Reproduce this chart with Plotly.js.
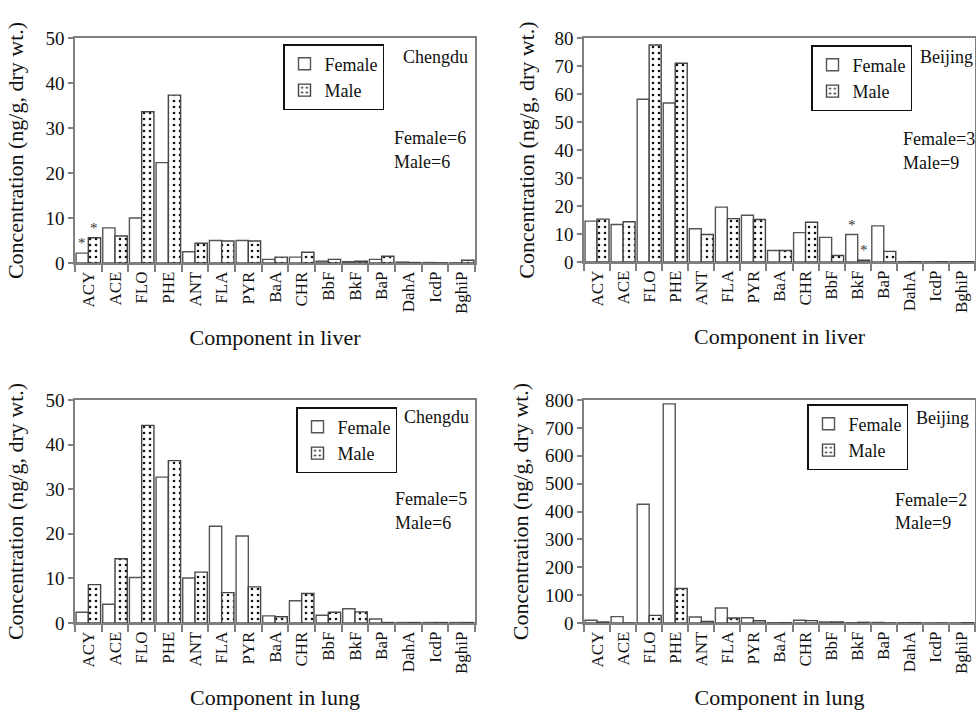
<!DOCTYPE html>
<html>
<head>
<meta charset="utf-8">
<script src="https://cdn.plot.ly/plotly-3.0.1.min.js"></script>
<style>
html,body{margin:0;padding:0;background:#fff;}
#chart{width:976px;height:714px;}
#chart text{font-family:'Liberation Serif' !important;}
</style>
</head>
<body>
<div id="chart"></div>
<script>
const categories = ['ACY','ACE','FLO','PHE','ANT','FLA','PYR','BaA','CHR','BbF','BkF','BaP','DahA','IcdP','BghiP'];
const liverChengduFemale = [2.2, 7.8, 10.0, 22.3, 2.5, 5.0, 5.0, 0.8, 1.3, 0.4, 0.3, 0.8, 0.2, 0.1, 0.05];
const liverChengduMale   = [5.6, 6.0, 33.6, 37.3, 4.4, 4.9, 4.9, 1.3, 2.4, 0.8, 0.4, 1.5, 0.1, 0.05, 0.6];
const liverBeijingFemale = [14.6, 13.4, 58.1, 56.8, 11.9, 19.6, 16.7, 4.1, 10.5, 8.8, 9.8, 12.9, 0.1, 0.1, 0.1];
const liverBeijingMale   = [15.3, 14.4, 77.5, 71.0, 9.8, 15.5, 15.2, 4.1, 14.2, 2.3, 0.6, 3.8, 0.1, 0.1, 0.1];
const lungChengduFemale  = [2.4, 4.2, 10.2, 32.7, 10.1, 21.7, 19.5, 1.6, 5.0, 1.75, 3.2, 0.9, 0.1, 0.1, 0.1];
const lungChengduMale    = [8.6, 14.4, 44.3, 36.4, 11.4, 6.8, 8.1, 1.4, 6.6, 2.4, 2.5, 0.1, 0.1, 0.1, 0.1];
const lungBeijingFemale  = [9.6, 22.7, 426, 786, 21.5, 54, 19, 1, 9.6, 3.6, 1, 2, 1, 0.5, 0.5];
const lungBeijingMale    = [3.6, 0.5, 27.5, 124, 6, 18, 8, 1, 8.4, 3.6, 2.4, 0.5, 1, 0.5, 1];
const seriesNames = ['Female', 'Male'];
const cityNames = ['Chengdu', 'Beijing', 'Chengdu', 'Beijing'];
const sampleSizes = [['Female=6','Male=6'], ['Female=3','Male=9'], ['Female=5','Male=6'], ['Female=2','Male=9']];
const xTitles = ['Component in liver', 'Component in liver', 'Component in lung', 'Component in lung'];
const yTitle = 'Concentration (ng/g, dry wt.)';
const yRanges = [[0,50],[0,80],[0,50],[0,800]];
const yDticks = [10,10,10,100];
// asterisks: [panel index, category, sex(0 female,1 male)]
const starMarks = [[0,'ACY',0],[0,'ACY',1],[1,'BkF',0],[1,'BkF',1]];

const SERIF = 'Liberation Serif';
const W = 976, H = 714;
const panelsPx = [
  {x0:75, x1:475, y0:38, y1:263},
  {x0:584, x1:975, y0:38, y1:262},
  {x0:75, x1:475, y0:400, y1:623},
  {x0:584, x1:975, y0:400, y1:623}
];
const legendPx = [ {right:384, top:44}, {right:912, top:45}, {right:397, top:407}, {right:908, top:404} ];
const cityPx = [ {x:401, y:57}, {x:918, y:57}, {x:402, y:417}, {x:914, y:418} ];
const nPx = [ {x:392, y1:138, y2:162}, {x:901, y1:139, y2:163}, {x:393, y1:499, y2:523}, {x:893, y1:500, y2:523} ];
const yStandoff = [16, 14, 16, 10];

const dataSets = [
  [liverChengduFemale, liverChengduMale],
  [liverBeijingFemale, liverBeijingMale],
  [lungChengduFemale, lungChengduMale],
  [lungBeijingFemale, lungBeijingMale]
];

function fnt(size) { return {family: SERIF, size: size, color: '#111'}; }

const traces = [];
const layout = {
  width: W, height: H,
  margin: {l:0, r:0, t:0, b:0},
  paper_bgcolor: '#fff', plot_bgcolor: '#fff',
  barmode: 'group', bargap: 0.08, bargroupgap: 0,
  showlegend: true,
  annotations: []
};

dataSets.forEach((pair, p) => {
  const sfx = p === 0 ? '' : String(p + 1);
  const legName = 'legend' + sfx;
  pair.forEach((vals, s) => {
    traces.push({
      type: 'bar', x: categories, y: vals, name: seriesNames[s],
      xaxis: 'x' + sfx, yaxis: 'y' + sfx, legend: legName,
      marker: s === 0 ? {color: '#fff', line: {color: '#555', width: 1.4}} :
        {color: '#fff', line: {color: '#444', width: 1.4},
         pattern: {shape: '.', fgcolor: '#111', bgcolor: '#fff', size: 6, solidity: 0.15}}
    });
  });
  const px = panelsPx[p];
  layout['xaxis' + sfx] = {
    domain: [px.x0 / W, px.x1 / W], anchor: 'y' + sfx,
    type: 'category', range: [-0.5, 14.5],
    showline: true, linecolor: '#808080', linewidth: 1.5, mirror: true,
    ticks: 'outside', tickson: 'boundaries', ticklen: 7, tickwidth: 1.5, tickcolor: '#808080',
    tickangle: -90, tickfont: fnt(17),
    showgrid: false, zeroline: false, automargin: false,
    title: {text: xTitles[p], font: fnt(22), standoff: 17}
  };
  layout['yaxis' + sfx] = {
    domain: [1 - px.y1 / H, 1 - px.y0 / H], anchor: 'x' + sfx,
    range: yRanges[p], dtick: yDticks[p],
    showline: true, linecolor: '#808080', linewidth: 1.5, mirror: true,
    ticks: 'outside', ticklen: 5, tickwidth: 1.5, tickcolor: '#808080',
    tickfont: fnt(19),
    showgrid: false, zeroline: false, automargin: false,
    title: {text: yTitle, font: fnt(22), standoff: yStandoff[p]}
  };
  layout[legName] = {
    x: legendPx[p].right / W, y: 1 - legendPx[p].top / H, xanchor: 'right', yanchor: 'top',
    bgcolor: '#fff', bordercolor: '#111', borderwidth: 1.5,
    font: fnt(18),
    itemwidth: 30, tracegroupgap: 0
  };
  const xd = 'x' + sfx + ' domain', yd = 'y' + sfx + ' domain';
  const toDx = v => (v - px.x0) / (px.x1 - px.x0);
  const toDy = v => (px.y1 - v) / (px.y1 - px.y0);
  layout.annotations.push({xref: xd, yref: yd, x: toDx(cityPx[p].x), y: toDy(cityPx[p].y),
    xanchor: 'left', yanchor: 'middle', text: cityNames[p], showarrow: false, font: fnt(18)});
  layout.annotations.push({xref: xd, yref: yd, x: toDx(nPx[p].x), y: toDy(nPx[p].y1),
    xanchor: 'left', yanchor: 'middle', text: sampleSizes[p][0], showarrow: false, font: fnt(18)});
  layout.annotations.push({xref: xd, yref: yd, x: toDx(nPx[p].x), y: toDy(nPx[p].y2),
    xanchor: 'left', yanchor: 'middle', text: sampleSizes[p][1], showarrow: false, font: fnt(18)});
});

starMarks.forEach(([p, cat, s]) => {
  const sfx = p === 0 ? '' : String(p + 1);
  const idx = categories.indexOf(cat);
  const px = panelsPx[p];
  const catW = (px.x1 - px.x0) / categories.length;
  layout.annotations.push({
    xref: 'x' + sfx, yref: 'y' + sfx, x: cat, y: dataSets[p][s][idx],
    xshift: (s === 0 ? -1 : 1) * catW * 0.92 / 4, yshift: 0,
    xanchor: 'center', yanchor: 'bottom', text: '*', showarrow: false,
    font: {family: SERIF, size: 15, color: '#333'}
  });
});

Plotly.newPlot('chart', traces, layout, {displayModeBar: false});
</script>
</body>
</html>
